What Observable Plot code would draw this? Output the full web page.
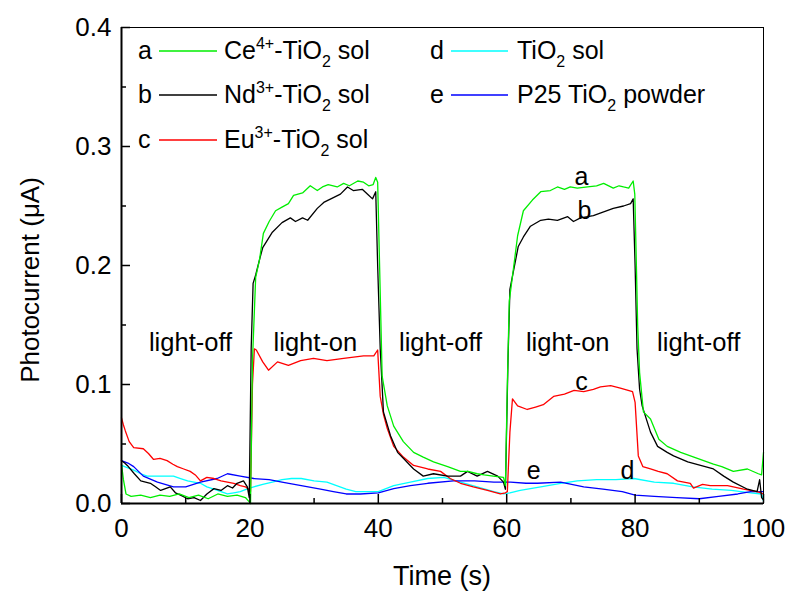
<!DOCTYPE html>
<html>
<head>
<meta charset="utf-8">
<script src="https://cdn.jsdelivr.net/npm/d3@7"></script>
<script src="https://cdn.jsdelivr.net/npm/@observablehq/plot@0.6"></script>
<style>
  html, body { margin: 0; padding: 0; background: #fff; }
  #chart { width: 789px; height: 594px; }
</style>
</head>
<body>
<div id="chart"></div>
<script>
// ---------- DATA ----------
// a: Ce4+-TiO2 sol (green)
const tA = [0,0.3,0.7,1.5,3,4.5,6,7.5,9,10.5,12,13.5,15,16.5,18,19.3,19.8,20.1,20.4,20.9,21.5,22.1,23,24,25,26,26.8,28.2,29.4,30.5,31.3,32.2,33.6,34.6,35.5,36.8,37.7,38.5,39.2,39.6,39.9,40.2,40.6,41.4,42.4,43.9,45.5,47,48.6,50.8,52.8,54,55.4,56.5,57.9,59.5,59.8,60.1,60.4,60.9,61.7,62.6,64,65.3,66.8,67.9,69,69.9,71,72.6,74,75.1,76.6,77.5,78.2,79,79.7,79.95,80.2,80.4,80.7,81.3,82.4,83.7,85,87.1,89.7,92.2,93.5,95.3,97.5,99.2,99.7,100];
const vA = [0.033,0.02,0.008,0.006,0.007,0.005,0.007,0.006,0.008,0.005,0.007,0.004,0.008,0.006,0.007,0.005,0.002,0.0,0.12,0.19,0.205,0.227,0.237,0.246,0.249,0.252,0.259,0.261,0.267,0.263,0.266,0.268,0.266,0.269,0.267,0.271,0.270,0.267,0.268,0.274,0.27,0.2,0.107,0.082,0.065,0.052,0.043,0.039,0.035,0.031,0.027,0.027,0.025,0.024,0.023,0.022,0.015,0.10,0.17,0.191,0.225,0.246,0.255,0.262,0.263,0.266,0.264,0.266,0.265,0.266,0.267,0.269,0.265,0.267,0.266,0.265,0.271,0.26,0.2,0.15,0.11,0.077,0.071,0.054,0.048,0.043,0.038,0.033,0.031,0.027,0.029,0.025,0.024,0.043];

// b: Nd3+-TiO2 sol (black)
const tB = [0,0.5,0.9,2,3,4.5,5.3,6.1,7.6,8.4,9.2,10.3,11.3,12.3,13.3,14.4,15.5,16.5,17.3,18,19,19.6,19.9,20.2,20.5,20.9,21.5,22,23.5,25,26.3,27.1,28.2,29,30.5,31.5,33,34.1,35.2,36.1,37.5,38.5,39.1,39.6,39.9,40.3,40.8,41.9,43,43.9,45.5,47,48.6,50.8,52.8,53.9,55.4,57,58.6,59.5,59.8,60.2,60.5,60.9,61.8,62.6,63.7,65.3,66.5,67.9,69.5,70.4,71.5,72.6,73.5,75.1,76.6,78.2,79.3,79.7,80,80.3,80.7,81.1,82.4,83.5,85,86,88.2,90.2,92.2,93.8,95.3,97.5,99,99.4,99.7,100];
const vB = [0.036,0.034,0.032,0.025,0.019,0.017,0.014,0.011,0.014,0.009,0.007,0.004,0.005,0.0025,0.008,0.0125,0.011,0.015,0.013,0.017,0.019,0.014,0.005,0.13,0.185,0.192,0.205,0.215,0.228,0.236,0.24,0.237,0.24,0.238,0.248,0.253,0.257,0.26,0.266,0.263,0.264,0.259,0.256,0.262,0.2,0.13,0.077,0.057,0.043,0.038,0.029,0.023,0.025,0.023,0.023,0.027,0.023,0.027,0.023,0.018,0.012,0.12,0.18,0.191,0.216,0.224,0.233,0.238,0.239,0.238,0.241,0.237,0.24,0.241,0.242,0.245,0.248,0.25,0.252,0.256,0.2,0.13,0.096,0.082,0.06,0.048,0.043,0.04,0.035,0.032,0.029,0.023,0.018,0.012,0.01,0.02,0.005,0.003];

// c: Eu3+-TiO2 sol (red)
const tC = [0,0.3,0.6,1.2,1.9,3.4,4.2,5,6,7.1,8,8.7,9.7,10.7,11.5,12.3,13.3,14.4,15.5,16.5,17.5,18.5,19.3,19.8,20.1,20.4,20.7,21,22,22.9,24.3,26,27.9,29.9,32,34.6,37.7,39.3,39.9,40.3,40.8,41.4,42.4,43.9,45.5,47.7,49.7,51.2,52.8,54.8,57,59,59.8,60.1,60.5,60.9,61.7,63.2,64.5,65.7,67.3,69,70.5,72,73.5,74.6,76.2,77.7,79.6,80,80.5,81.2,82.4,83.6,85,86.6,88.6,89.1,90.5,91.7,94.4,96.9,99,99.6,100];
const vC = [0.072,0.066,0.061,0.052,0.047,0.046,0.042,0.037,0.038,0.036,0.033,0.031,0.029,0.027,0.024,0.019,0.022,0.021,0.019,0.018,0.017,0.015,0.014,0.012,0.01,0.1,0.13,0.129,0.119,0.112,0.119,0.116,0.12,0.122,0.12,0.122,0.124,0.124,0.129,0.09,0.075,0.063,0.048,0.039,0.032,0.029,0.027,0.021,0.017,0.014,0.011,0.008,0.009,0.01,0.06,0.088,0.082,0.079,0.081,0.083,0.09,0.092,0.095,0.094,0.096,0.098,0.099,0.097,0.094,0.085,0.04,0.031,0.029,0.027,0.025,0.019,0.017,0.013,0.016,0.015,0.015,0.012,0.01,0.009,0.008];

// d: TiO2 sol (cyan)
const tD = [0,1,1.9,3,4,6,8.1,9.2,10.3,11.3,12.3,13.3,14.4,15.5,16.5,17.5,18.5,19.5,20.6,22,23.5,25,26.5,28,30,32,33.5,35,36.5,38,40,42.4,45,47.7,50.2,52.8,55.4,58,59.5,60.5,62.1,65.3,68.4,71,74,77,79.8,83,86,89,92,95,98,99.7,100];
const vD = [0.032,0.03,0.028,0.025,0.023,0.023,0.023,0.021,0.019,0.018,0.017,0.014,0.012,0.01,0.008,0.009,0.01,0.012,0.014,0.016,0.018,0.02,0.021,0.021,0.019,0.018,0.015,0.012,0.01,0.01,0.01,0.015,0.018,0.021,0.022,0.018,0.014,0.01,0.008,0.009,0.011,0.014,0.017,0.019,0.02,0.02,0.021,0.018,0.017,0.014,0.012,0.011,0.009,0.008,0.002];

// e: P25 TiO2 powder (blue)
const tE = [0,1,1.9,3.4,5.6,8.1,10,12.3,14.9,16.5,18.5,20.6,23,25,28,31,33,35,37.2,40,42.4,45,47.7,51.7,55,58,60.6,63,64.8,68.4,72,75,78,80,83,86.5,90,93,96,98,100];
const vE = [0.036,0.034,0.031,0.023,0.018,0.014,0.014,0.018,0.021,0.025,0.023,0.021,0.02,0.018,0.015,0.012,0.01,0.008,0.008,0.009,0.0125,0.015,0.017,0.019,0.019,0.018,0.018,0.017,0.017,0.018,0.014,0.012,0.01,0.007,0.006,0.005,0.004,0.006,0.008,0.01,0.01];

// tick values
const xMajor = [0, 20, 40, 60, 80, 100];
const xMinor = [10, 30, 50, 70, 90];
const yMajor = [0, 0.1, 0.2, 0.3, 0.4];
const yMinor = [0.05, 0.15, 0.25, 0.35];

// annotations
const phaseLabels = ["light-off", "light-on", "light-off", "light-on", "light-off"];
const phaseT = [10.75, 30.2, 49.7, 69.5, 89.9];
const phaseV = [0.1353, 0.1353, 0.1353, 0.1353, 0.1353];
const curveLetters = ["a", "b", "c", "d", "e"];
const letterT = [71.65, 72.1, 71.65, 78.8, 64.2];
const letterV = [0.274, 0.246, 0.1025, 0.0277, 0.0269];

const colors = { a: "#00ee00", b: "#000000", c: "#ff0000", d: "#00ffff", e: "#0000ff" };

// ---------- BUILD ----------
const toRows = (ts, vs) => ts.map((t, i) => ({ t, v: vs[i] }));
const series = [
  { key: "d", rows: toRows(tD, vD) },
  { key: "e", rows: toRows(tE, vE) },
  { key: "c", rows: toRows(tC, vC) },
  { key: "b", rows: toRows(tB, vB) },
  { key: "a", rows: toRows(tA, vA) }
];

const W = 789, H = 594, ML = 121, MR = 26, MT = 27, MB = 91;
const FW = W - ML - MR, FH = H - MT - MB;
const FONT = "'Liberation Sans', Arial, Helvetica, sans-serif";

const plot = Plot.plot({
  width: W, height: H,
  marginLeft: ML, marginRight: MR, marginTop: MT, marginBottom: MB,
  style: { fontFamily: FONT, background: "white", color: "black", overflow: "visible" },
  x: { domain: [0, 100] },
  y: { domain: [0, 0.4] },
  marks: [
    ...series.map(s => Plot.line(s.rows, { x: "t", y: "v", stroke: colors[s.key], strokeWidth: 1.3 })),
    Plot.frame({ stroke: "black", strokeWidth: 1 }),
    Plot.ruleX([0], { stroke: "black", strokeWidth: 2 }),
    Plot.ruleY([0], { stroke: "black", strokeWidth: 2 }),
    Plot.ruleX(xMajor, { x: d => d, insetTop: FH - 9, strokeWidth: 1.5 }),
    Plot.ruleX(xMinor, { x: d => d, insetTop: FH - 5, strokeWidth: 1.5 }),
    Plot.ruleY(yMajor, { y: d => d, insetRight: FW - 9, strokeWidth: 1.5 }),
    Plot.ruleY(yMinor, { y: d => d, insetRight: FW - 5, strokeWidth: 1.5 }),
    Plot.axisX({ ticks: xMajor, tickSize: 0, tickPadding: 15, label: null, fontSize: 26, tickFormat: d => String(d) }),
    Plot.axisY({ ticks: yMajor, tickSize: 0, tickPadding: 10, label: null, fontSize: 26, tickFormat: d3.format(".1f") }),
    Plot.text(phaseLabels, { x: (d, i) => phaseT[i], y: (d, i) => phaseV[i], text: d => d, fontSize: 25.5, lineAnchor: "middle", fill: "black" }),
    Plot.text(curveLetters, { x: (d, i) => letterT[i], y: (d, i) => letterV[i], text: d => d, fontSize: 25, lineAnchor: "middle", fill: "black" })
  ]
});

document.getElementById("chart").appendChild(plot);

// ---------- axis titles & legend ----------
const svg = d3.select(plot);
svg.append("text")
  .attr("x", ML + FW / 2).attr("y", 585)
  .attr("text-anchor", "middle")
  .attr("font-family", FONT).attr("font-size", 27).attr("fill", "black")
  .text("Time (s)");
svg.append("text")
  .attr("transform", `translate(39, 280) rotate(-90)`)
  .attr("text-anchor", "middle")
  .attr("font-family", FONT).attr("font-size", 26).attr("fill", "black")
  .text("Photocurrent (\u03bcA)");

const legendItems = [
  { key: "a", col: 0, row: 0, parts: [["Ce", ""], ["4+", "sup"], ["-TiO", ""], ["2", "sub"], [" sol", ""]] },
  { key: "b", col: 0, row: 1, parts: [["Nd", ""], ["3+", "sup"], ["-TiO", ""], ["2", "sub"], [" sol", ""]] },
  { key: "c", col: 0, row: 2, parts: [["Eu", ""], ["3+", "sup"], ["-TiO", ""], ["2", "sub"], [" sol", ""]] },
  { key: "d", col: 1, row: 0, parts: [["TiO", ""], ["2", "sub"], [" sol", ""]] },
  { key: "e", col: 1, row: 1, parts: [["P25 TiO", ""], ["2", "sub"], [" powder", ""]] }
];
const colX = [138, 430];
const lineX = [[159, 217], [451, 508]];
const textX = [224, 517];
const rowY = [59, 103, 148];
const lg = svg.append("g").attr("font-family", FONT).attr("fill", "black").attr("text-anchor", "start");
legendItems.forEach(it => {
  const y = rowY[it.row];
  lg.append("text").attr("x", colX[it.col]).attr("y", y).attr("font-size", 25).attr("text-anchor", "start").text(it.key);
  lg.append("line")
    .attr("x1", lineX[it.col][0]).attr("x2", lineX[it.col][1])
    .attr("y1", y - 8).attr("y2", y - 8)
    .attr("stroke", colors[it.key]).attr("stroke-width", 1.3);
  const t = lg.append("text").attr("x", textX[it.col]).attr("y", y).attr("font-size", 25).attr("text-anchor", "start");
  let shift = 0;
  it.parts.forEach(([s, kind]) => {
    const target = kind === "sup" ? -10 : kind === "sub" ? 8 : 0;
    t.append("tspan")
      .attr("dy", target - shift)
      .attr("font-size", kind ? 16 : 25)
      .text(s);
    shift = target;
  });
});
</script>
</body>
</html>
